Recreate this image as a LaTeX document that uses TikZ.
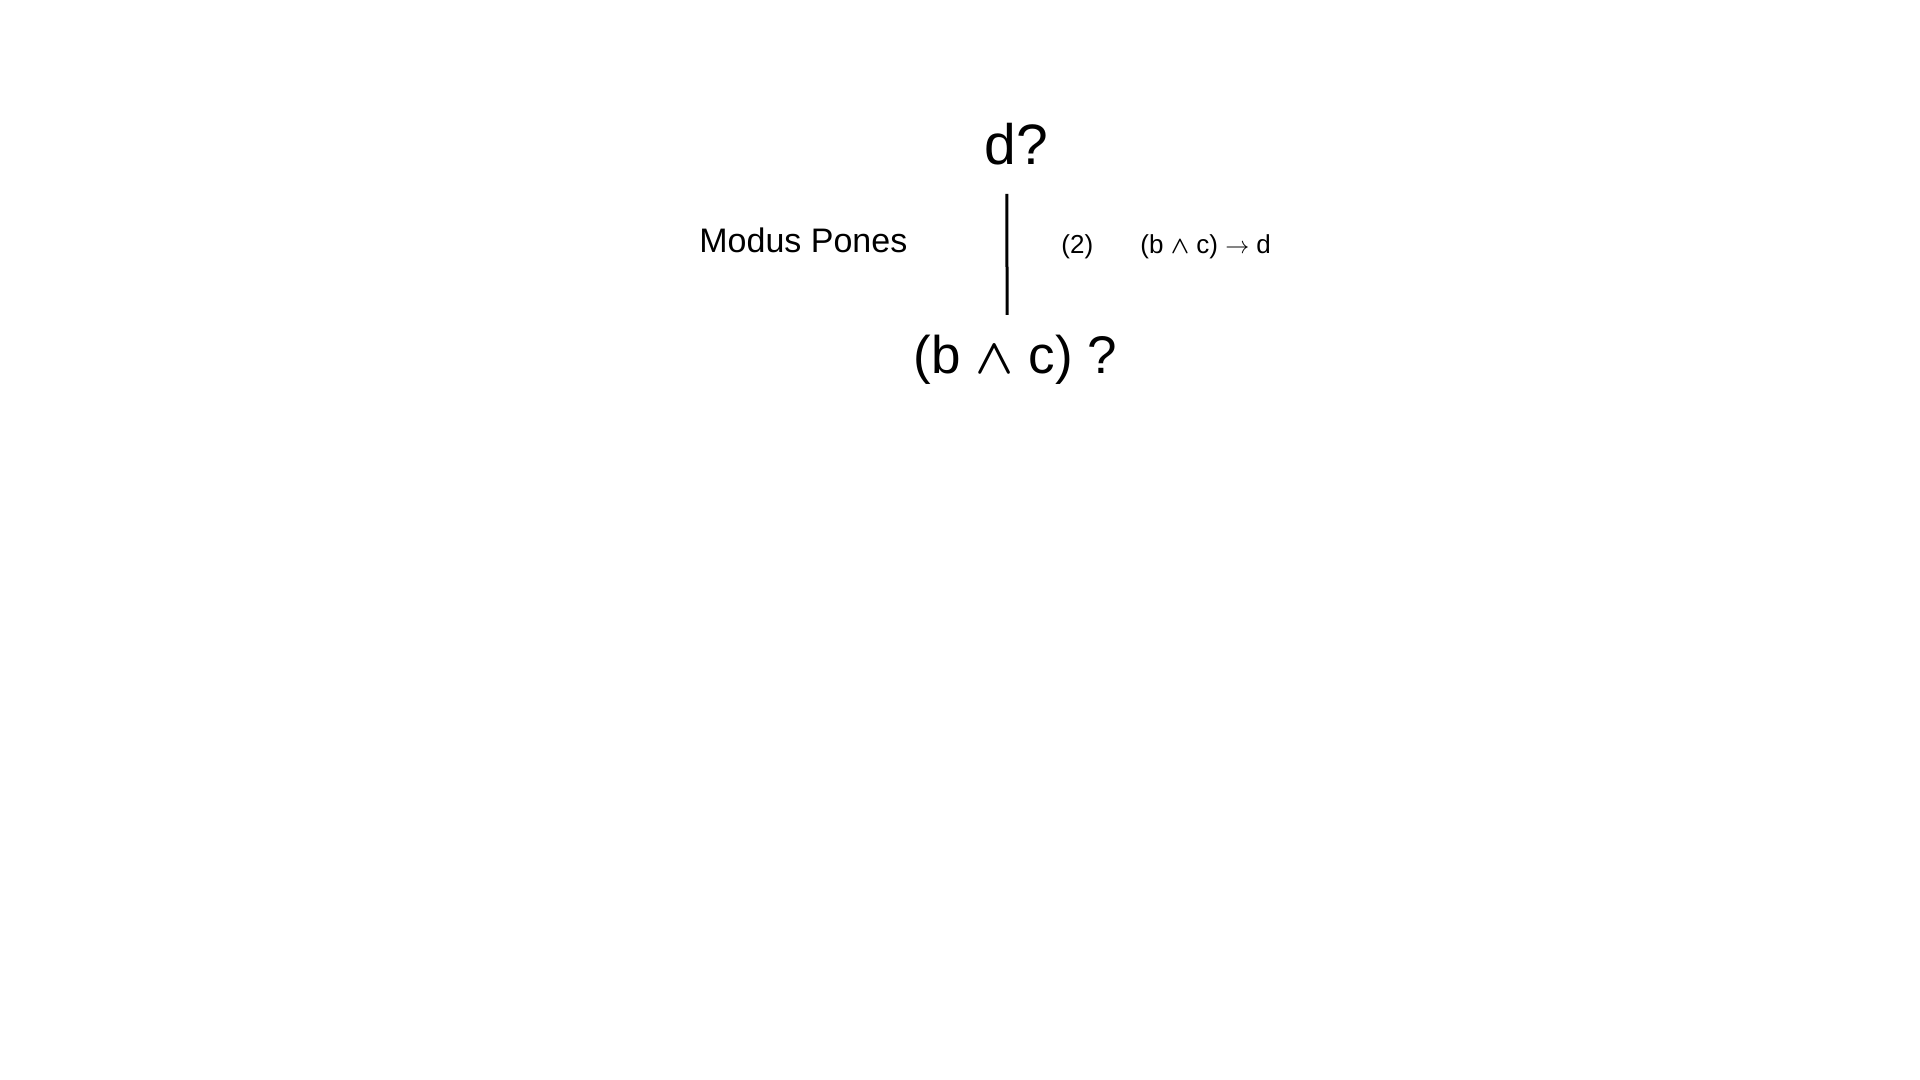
\documentclass[tikz,border=0pt]{standalone}
\usepackage{amsmath}
\usepackage{fontspec}
\setmainfont{Liberation Sans}
\newcommand{\andsym}{$\boldsymbol{\wedge}$}
\newcommand{\impsym}{$\rightarrow$}
\tikzset{
  goal/.style={inner sep=0pt, anchor=base west, font=\fontsize{26.5}{32}\selectfont},
  rulename/.style={inner sep=0pt, anchor=base west, font=\fontsize{17}{20}\selectfont},
  premise/.style={inner sep=0pt, anchor=base west, font=\fontsize{13}{16}\selectfont},
  ruleline/.style={line width=1.5pt}
}
\begin{document}
\begin{tikzpicture}[x=0.5pt,y=-0.5pt]
    \useasboundingbox (0,0) rectangle (1920,1080);

    % Goals
    \node[goal, font=\fontsize{28.5}{34}\selectfont] (top) at (984,165) {d?};
    \node[goal] (bottom) at (913.5,373) {(b \andsym{} c) ?};

    % Rule and its labels
    \node[rulename] (name) at (699,252.5) {Modus Pones};
    \node[premise] (num) at (1061,254) {(2)};
    \node[premise] (prem) at (1140,254) {(b \andsym{} c) \impsym{} d};

    % Line
    \draw[ruleline] ([xshift=-4.6pt,yshift=-14pt]top.south) -- ([xshift=-4.2pt,yshift=9.7pt]bottom.north);
\end{tikzpicture}
\end{document}
